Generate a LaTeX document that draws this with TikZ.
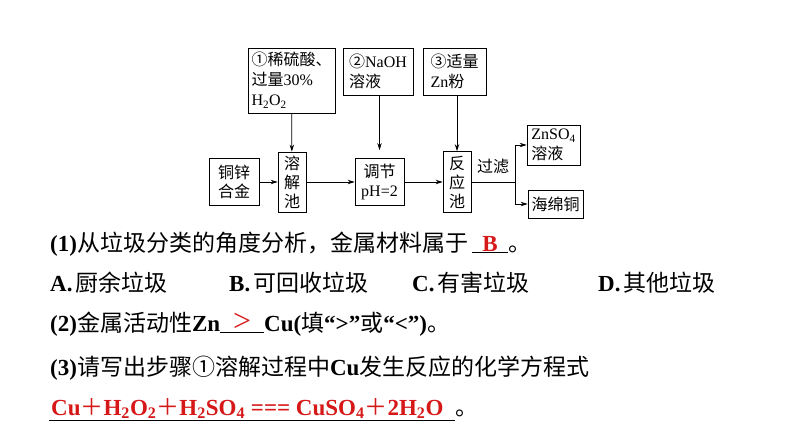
\documentclass[tikz,border=0pt]{standalone}
\usepackage{fontspec}
\setmainfont{Liberation Serif}
\newfontfamily\cjk{Noto Sans CJK SC}
\usetikzlibrary{arrows.meta}
\usetikzlibrary{positioning}
\definecolor{ans}{RGB}{214,24,24}
\newcommand{\zh}[1]{{\cjk\mdseries #1}}
\newcommand{\dn}[1]{\textsubscript{#1}}
\newcommand{\blank}[2]{\underline{\makebox[#1]{\color{ans}#2}}}

\begin{document}
\begin{tikzpicture}[x=1pt, y=-1pt, >={Stealth[length=7pt, width=4.5pt]},
    box/.style={draw, line width=0.8pt, inner sep=0pt, align=center,
                font=\fontsize{16}{19}\selectfont},
    lbox/.style={box, align=left, font=\fontsize{16}{20}\selectfont},
    flow/.style={->, line width=0.8pt},
    qline/.style={anchor=base west, inner sep=0pt, font=\fontsize{23}{27}\selectfont}]

    \useasboundingbox (0,0) rectangle (794,447);

    % main row
    \node[box, minimum width=50, minimum height=47] (alloy) at (234,182) {\zh{铜锌}\\\zh{合金}};
    \node[box, minimum width=28, minimum height=60] (dissolve) at (292,182) {\zh{溶}\\\zh{解}\\\zh{池}};
    \node[box, minimum width=49, minimum height=47] (adjust) at (379.5,182) {\zh{调节}\\pH=2};
    \node[box, minimum width=28, minimum height=61] (react) at (457,182) {\zh{反}\\\zh{应}\\\zh{池}};

    % reagents
    \node[lbox, minimum width=87, minimum height=65] (acid) at (291.5,80.5)
        {\zh{①稀硫酸、}\\\zh{过量}30\%\\H\dn2O\dn2};
    \node[lbox, minimum width=70, minimum height=47] (naoh) at (378,71.5) {\zh{②}NaOH\\\zh{溶液}};
    \node[lbox, minimum width=63, minimum height=47] (zinc) at (454.5,71.5) {\zh{③适量}\\Zn\zh{粉}};

    % products
    \node[lbox, minimum width=53, minimum height=40] (znso) at (553.5,145) {ZnSO\dn4\\\zh{溶液}};
    \node[box, minimum width=55, minimum height=28] (sponge) at (555.5,204) {\zh{海绵铜}};
    \coordinate (split) at (515,182);
    \node[font=\fontsize{16}{19}\selectfont, inner sep=0pt] (filt) at (493,166) {\zh{过滤}};

    \draw[flow] (alloy) -- (dissolve);
    \draw[flow] (dissolve) -- (adjust);
    \draw[flow] (adjust) -- (react);
    \draw[flow] (acid) -- (dissolve);
    \draw[flow] (adjust.north |- naoh.south) -- ([yshift=8pt]adjust.north);
    \draw[flow] (react.north |- zinc.south) -- (react.north);
    \draw[line width=0.8pt] (react) -- (split);
    \draw[flow] (split) |- (znso.west);
    \draw[flow] (split) |- (sponge.west);

    % questions
    \node[qline] (q1) at (50,251)
        {\textbf{(1)}\zh{从垃圾分类的角度分析，金属材料属于}\hspace{4pt}\blank{36pt}{\textbf{B}}\zh{。}};
    \node[qline] (optA) at (50,291) {\textbf{A.}\hspace{3pt}\zh{厨余垃圾}};
    \node[qline] (optB) at (229,291) {\textbf{B.}\hspace{3pt}\zh{可回收垃圾}};
    \node[qline] (optC) at (412,291) {\textbf{C.}\hspace{3pt}\zh{有害垃圾}};
    \node[qline] (optD) at (598,291) {\textbf{D.}\hspace{3pt}\zh{其他垃圾}};
    \node[qline] (q2) at (50,331)
        {\textbf{(2)}\zh{金属活动性}\textbf{Zn}\blank{44pt}{{\fontsize{32}{32}\selectfont >}}\textbf{Cu(}\zh{填}\textbf{“>”}\zh{或}\textbf{“<”)}\zh{。}};
    \node[qline] (q3) at (50,375)
        {\textbf{(3)}\zh{请写出步骤①溶解过程中}\textbf{Cu}\zh{发生反应的化学方程式}};
    \node[qline] (eq) at (49,415)
        {\underline{\makebox[406pt][l]{\color{ans}\bfseries\hspace{2pt}Cu\zh{＋}H\dn2O\dn2\zh{＋}H\dn2SO\dn4\ ===\ CuSO\dn4\zh{＋}2H\dn2O}}\zh{。}};

\end{tikzpicture}
\end{document}
